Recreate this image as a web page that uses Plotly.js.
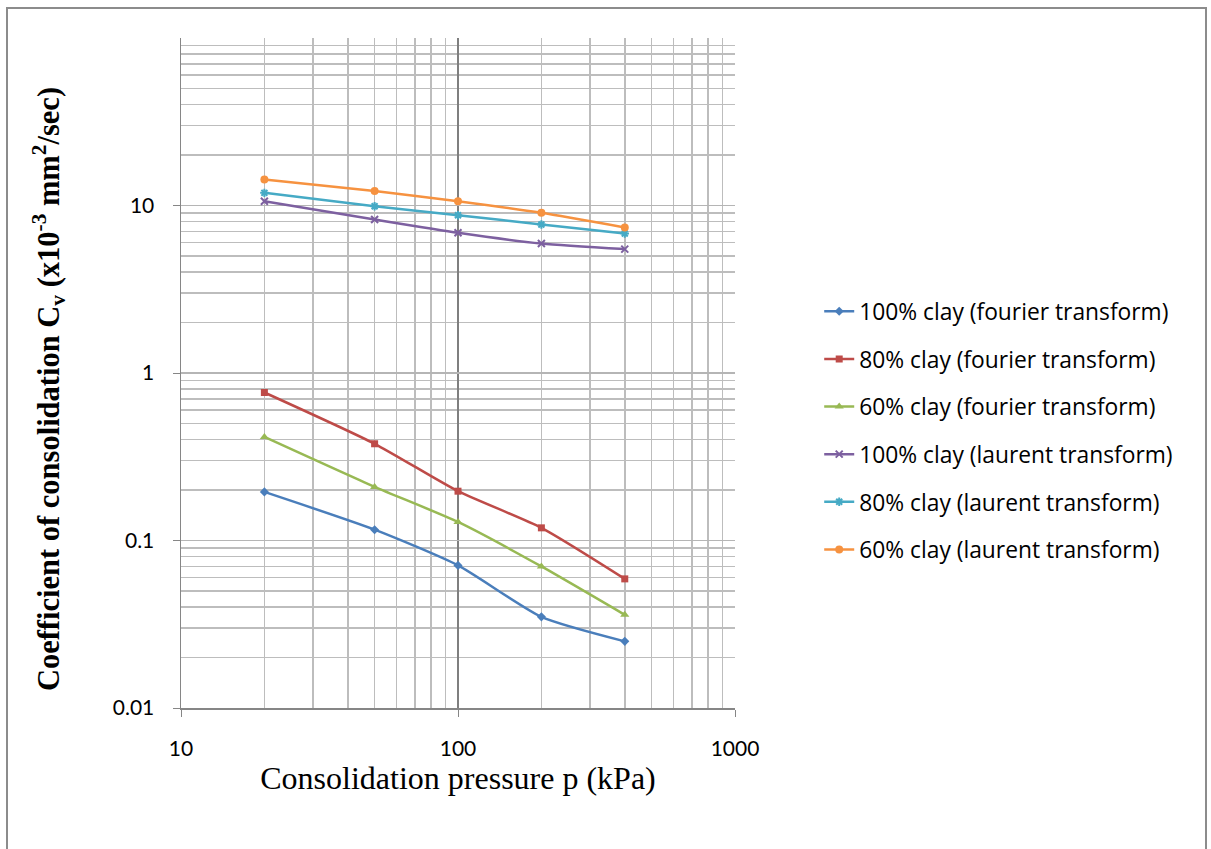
<!DOCTYPE html>
<html>
<head>
<meta charset="utf-8">
<script src="https://cdn.plot.ly/plotly-3.0.1.min.js"></script>
<style>
  html, body { margin: 0; padding: 0; background: #fff; overflow: hidden; }
  #frame { position: absolute; left: 6px; top: 7px; width: 1201px; height: 860px;
           border: 2px solid #8c8c8c; border-bottom: none; box-sizing: border-box; }
  #chart { position: absolute; left: 0; top: 0; width: 1211px; height: 849px; }
</style>
</head>
<body>
<div id="frame"></div>
<div id="chart"></div>
<script>
// Consolidation pressure (kPa)
const pressure = [20, 50, 100, 200, 400];

// Coefficient of consolidation Cv (x10^-3 mm²/sec)
const fourier100 = [0.195, 0.116, 0.071, 0.035, 0.025];
const fourier80  = [0.765, 0.378, 0.197, 0.119, 0.059];
const fourier60  = [0.415, 0.209, 0.129, 0.070, 0.036];
const laurent100 = [10.6, 8.25, 6.87, 5.93, 5.49];
const laurent80  = [11.9, 9.9, 8.75, 7.7, 6.8];
const laurent60  = [14.3, 12.2, 10.6, 9.05, 7.4];

const seriesNames = [
  '100% clay (fourier transform)',
  '80% clay (fourier transform)',
  '60% clay (fourier transform)',
  '100% clay (laurent transform)',
  '80% clay (laurent transform)',
  '60% clay (laurent transform)'
];
const seriesValues = [fourier100, fourier80, fourier60, laurent100, laurent80, laurent60];
const seriesColors = ['#4a7ebb', '#be4b48', '#98b954', '#7d60a0', '#46aac5', '#f69240'];
const seriesMarkers = [
  {symbol: 'diamond', size: 7},
  {symbol: 'square', size: 7},
  {symbol: 'triangle-up', size: 8},
  {symbol: 'x-thin-open', size: 7},
  {symbol: 'asterisk-open', size: 7},
  {symbol: 'circle', size: 8}
];

const yTickVals = [0.01, 0.1, 1, 10];
const yTickText = ['0.01', '0.1', '1', '10'];
const xTickVals = [10, 100, 1000];
const xTickText = ['10', '100', '1000'];

const yTitle = '<b>Coefficient of consolidation C<sub>v</sub> (x10<sup>-3</sup> mm<sup>2</sup>/sec)</b>';

const traces = seriesValues.map((vals, i) => ({
  type: 'scatter',
  mode: 'lines+markers',
  x: pressure,
  y: vals,
  name: seriesNames[i],
  legendgroup: 'g' + i,
  line: {color: seriesColors[i], width: 2.5, shape: 'spline', smoothing: 0.6},
  marker: {
    symbol: seriesMarkers[i].symbol,
    size: seriesMarkers[i].size,
    color: seriesColors[i],
    line: {color: seriesColors[i], width: seriesMarkers[i].symbol.indexOf('open') >= 0 ? 2 : 0}
  }
}));

const tickFont = {family: 'Lato, "Open Sans", sans-serif', size: 21, color: '#000'};

const layout = {
  width: 1211,
  height: 849,
  margin: {l: 181, r: 476, t: 38, b: 141},
  paper_bgcolor: 'rgba(0,0,0,0)',
  plot_bgcolor: '#fff',
  showlegend: true,
  legend: {
    x: 1.152, xanchor: 'left',
    y: 0.624, yanchor: 'top',
    traceorder: 'grouped',
    tracegroupgap: 15,
    font: {family: '"Open Sans", Lato, sans-serif', size: 22.8, color: '#000'},
    bgcolor: 'rgba(0,0,0,0)'
  },
  xaxis: {
    type: 'log',
    range: [1, 3],
    tickvals: xTickVals,
    ticktext: xTickText,
    tickfont: tickFont,
    ticks: 'outside',
    ticklen: 7,
    tickcolor: '#868686',
    ticklabelstandoff: 14,
    showline: true,
    linecolor: '#868686',
    linewidth: 1.5,
    mirror: false,
    showgrid: true,
    gridcolor: '#7f7f7f',
    gridwidth: 1.5,
    minor: {dtick: 'D1', showgrid: true, gridcolor: '#bdbdbd', gridwidth: 1.5, ticks: ''},
    zeroline: false,
    title: {
      text: 'Consolidation pressure p (kPa)',
      font: {family: '"Liberation Serif", "Times New Roman", serif', size: 32, color: '#000'},
      standoff: 3
    }
  },
  yaxis: {
    type: 'log',
    range: [-2, 2],
    tickvals: yTickVals,
    ticktext: yTickText,
    tickfont: tickFont,
    ticks: 'outside',
    ticklen: 7,
    tickcolor: '#868686',
    ticklabelstandoff: 14,
    showline: true,
    linecolor: '#868686',
    linewidth: 1.5,
    showgrid: true,
    gridcolor: '#b5b5b5',
    gridwidth: 1.5,
    minor: {dtick: 'D1', showgrid: true, gridcolor: '#bdbdbd', gridwidth: 1.5, ticks: ''},
    zeroline: false
  },
  annotations: [{
    text: yTitle,
    textangle: -90,
    xref: 'paper', yref: 'paper',
    x: -0.24, y: 0.476,
    xanchor: 'center', yanchor: 'middle',
    showarrow: false,
    font: {family: '"Liberation Serif", "Times New Roman", serif', size: 30.5, color: '#000'}
  }]
};

Plotly.newPlot('chart', traces, layout, {displayModeBar: false, staticPlot: true});
</script>
</body>
</html>
